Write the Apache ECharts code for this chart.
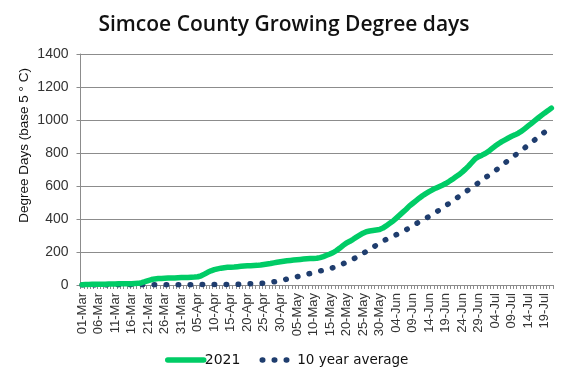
<!DOCTYPE html>
<html><head><meta charset="utf-8">
<script src="https://cdn.jsdelivr.net/npm/echarts@6/dist/echarts.min.js"></script>
<style>html,body{margin:0;padding:0;background:#fff}#c{width:568px;height:378px}</style>
</head><body><div id="c"></div>
<script>
// Categories: daily from 01-Mar to 21-Jul
var months = [['Mar', 31], ['Apr', 30], ['May', 31], ['Jun', 30], ['Jul', 21]];
var categories = [];
months.forEach(function (m) {
  for (var d = 1; d <= m[1]; d++) categories.push((d < 10 ? '0' : '') + d + '-' + m[0]);
});

var gdd2021 = [
  2, 3, 3, 4, 4, 5, 5, 5, 6, 6,
  6, 7, 7, 8, 8, 8, 9, 10, 14, 20,
  27, 33, 37, 39, 40, 41, 42, 42, 43, 44,
  45, 45, 46, 47, 48, 50, 56, 66, 77, 86,
  93, 98, 102, 105, 107, 108, 109, 111, 113, 115,
  116, 117, 118, 119, 121, 124, 127, 130, 134, 138,
  141, 144, 147, 149, 151, 153, 155, 157, 159, 160,
  161, 162, 166, 172, 180, 188, 197, 209, 224, 240,
  255, 265, 277, 290, 302, 314, 323, 327, 330, 333,
  336, 345, 358, 372, 386, 404, 422, 440, 458, 478,
  494, 510, 526, 541, 554, 566, 577, 587, 596, 605,
  615, 627, 640, 654, 668, 684, 702, 722, 744, 766,
  778, 787, 797, 810, 826, 842, 856, 869, 880, 891,
  901, 910, 920, 932, 948, 964, 980, 996, 1012, 1028,
  1043, 1057, 1072
];

var gddAvg = [
  0, 0, 0, 0, 0, 0, 0, 0, 0, 0,
  1, 1, 1, 1, 1, 1, 1, 1, 1, 1,
  1, 1, 1, 1, 2, 2, 2, 2, 2, 2,
  2, 2, 2, 2, 3, 3, 3, 3, 3, 3,
  3, 3, 3, 3, 3, 4, 4, 4, 5, 6,
  7, 8, 9, 9, 10, 11, 13, 16, 19, 23,
  27, 31, 36, 41, 46, 50, 55, 60, 65, 70,
  75, 80, 85, 90, 95, 100, 105, 113, 121, 129,
  138, 147, 156, 168, 180, 192, 203, 216, 229, 241,
  253, 265, 276, 286, 295, 304, 313, 324, 334, 346,
  358, 370, 382, 393, 404, 416, 428, 440, 453, 467,
  480, 494, 508, 522, 536, 550, 564, 578, 592, 606,
  620, 635, 650, 664, 678, 692, 708, 724, 740, 756,
  771, 786, 802, 817, 832, 848, 864, 880, 896, 912,
  927, 942, 957
];

var yTicks = { min: 0, max: 1400, interval: 200 };
var seriesNames = ['2021', '10 year average'];

var chart = echarts.init(document.getElementById('c'), null, { renderer: 'canvas' });
var green = '#00cc66', navy = '#1f3d6e', grid = '#8c8c8c', txt = '#333333';
var hidden = { color: 'rgba(0,0,0,0)', borderWidth: 0 };
chart.setOption({
  animation: false,
  backgroundColor: '#ffffff',
  title: {
    text: 'Simcoe County Growing Degree days',
    left: 'center', top: 10,
    textStyle: { fontFamily: 'Open Sans', fontSize: 21, fontWeight: 600, color: '#111' }
  },
  grid: { left: 80.5, right: 15, top: 54, bottom: 93, containLabel: false },
  legend: [
    {
      data: [seriesNames[0]], left: 160, top: 348, itemWidth: 36, itemHeight: 14,
      itemStyle: hidden,
      lineStyle: { width: 5.5, cap: 'round', color: green },
      textStyle: { fontFamily: 'DejaVu Sans', fontSize: 14, color: '#111', padding: [0, 0, 0, -4] }
    },
    {
      data: [seriesNames[1]], left: 254.5, top: 348, itemWidth: 30, itemHeight: 14,
      itemStyle: hidden,
      lineStyle: { width: 5.5, cap: 'round', color: navy, type: [0.5, 11.5] },
      textStyle: { fontFamily: 'DejaVu Sans', fontSize: 13.5, color: '#111', padding: [0, 0, 0, 0] }
    }
  ],
  xAxis: {
    type: 'category', data: categories, boundaryGap: true,
    axisLine: { lineStyle: { color: grid, width: 1 } },
    axisTick: { show: true, interval: 0, length: 4, lineStyle: { color: grid } },
    axisLabel: { interval: 4, rotate: 90, margin: 8, fontFamily: 'Liberation Sans', fontSize: 13, color: txt }
  },
  yAxis: {
    type: 'value', min: yTicks.min, max: yTicks.max, interval: yTicks.interval,
    axisLine: { show: true, lineStyle: { color: grid, width: 1 } },
    axisTick: { show: true, length: 4, lineStyle: { color: grid } },
    splitLine: { show: true, lineStyle: { color: grid, width: 1 } },
    axisLabel: { margin: 12, fontFamily: 'Liberation Sans', fontSize: 14, color: txt,
      formatter: function (v) { return String(v); } }
  },
  graphic: [{
    type: 'text', left: 17, top: 68, rotation: Math.PI / 2,
    style: { text: 'Degree Days (base 5 ° C)', fontFamily: 'Liberation Sans', fontSize: 13.5, fill: '#111' }
  }],
  series: [
    {
      name: seriesNames[0], type: 'line', data: gdd2021, showSymbol: false, symbol: 'none',
      itemStyle: { color: green },
      lineStyle: { color: green, width: 5.5, cap: 'round', join: 'round' }, z: 3
    },
    {
      name: seriesNames[1], type: 'line', data: gddAvg, showSymbol: false, symbol: 'none',
      itemStyle: { color: navy },
      lineStyle: { color: navy, width: 5.5, type: [0.5, 11.5], cap: 'round', join: 'round' }, z: 2
    }
  ]
});
</script></body></html>
